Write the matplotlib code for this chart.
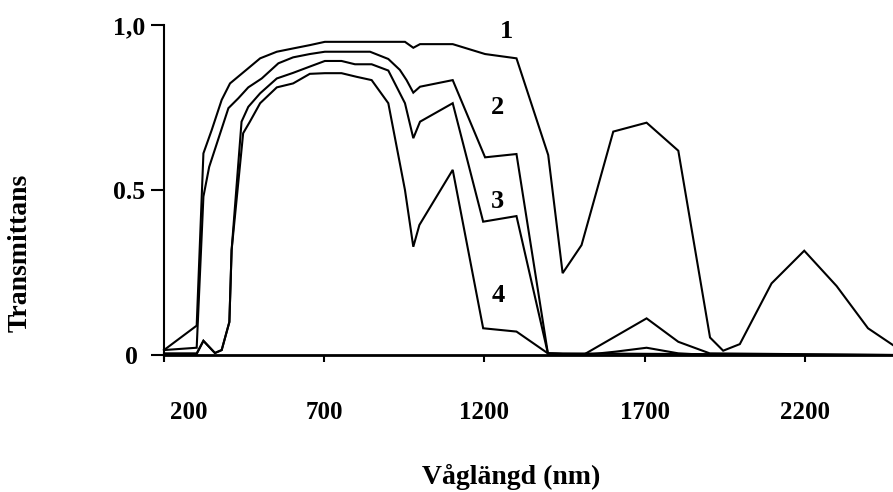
import matplotlib
matplotlib.use("Agg")
import matplotlib.pyplot as plt
from matplotlib.transforms import ScaledTranslation

# ---- data ----
wl1 = [200, 302, 323, 349, 380, 406, 437, 463, 500, 552, 603, 655, 702, 780, 883, 952, 978, 999,
       1101, 1202, 1300, 1399, 1444, 1503, 1602, 1706, 1805, 1904, 1945, 1997, 2096, 2198, 2299, 2397, 2475]
t1 = [0.015, 0.089, 0.611, 0.682, 0.773, 0.823, 0.848, 0.869, 0.899, 0.919, 0.929, 0.939, 0.949, 0.949,
      0.949, 0.949, 0.931, 0.942, 0.942, 0.912, 0.899, 0.606, 0.248, 0.333, 0.677, 0.704, 0.619, 0.053,
      0.013, 0.033, 0.217, 0.316, 0.209, 0.081, 0.030]

wl2 = [200, 302, 323, 341, 401, 432, 463, 505, 557, 603, 655, 702, 843, 900, 936, 957, 978, 999,
       1101, 1202, 1300, 1398, 1508, 1706, 1805, 1903, 2475]
t2 = [0.015, 0.022, 0.48, 0.57, 0.748, 0.778, 0.811, 0.838, 0.884, 0.902, 0.912, 0.919, 0.919, 0.897,
      0.864, 0.833, 0.795, 0.813, 0.833, 0.599, 0.609, 0.005, 0.0, 0.111, 0.04, 0.005, 0.0]

wl3 = [200, 302, 323, 359, 380, 404, 411, 442, 463, 500, 552, 603, 655, 702, 754, 796, 848, 900, 952,
       978, 999, 1101, 1196, 1300, 1398, 1508, 1608, 1706, 1805, 1903, 2475]
t3 = [0.005, 0.005, 0.043, 0.006, 0.015, 0.10, 0.318, 0.707, 0.752, 0.793, 0.838, 0.855, 0.874, 0.891,
      0.891, 0.881, 0.881, 0.862, 0.763, 0.657, 0.707, 0.763, 0.404, 0.421, 0.005, 0.0, 0.01, 0.022,
      0.005, 0.0, 0.0]

wl4 = [200, 302, 323, 359, 380, 404, 411, 447, 468, 500, 552, 603, 655, 702, 754, 801, 848, 900, 952,
       978, 997, 1101, 1196, 1300, 1398, 2475]
t4 = [0.0, 0.003, 0.043, 0.006, 0.015, 0.10, 0.318, 0.672, 0.707, 0.763, 0.811, 0.823, 0.852, 0.854,
      0.854, 0.843, 0.833, 0.763, 0.50, 0.328, 0.394, 0.561, 0.081, 0.071, 0.005, 0.0]

curve_labels = ["1", "2", "3", "4"]
label_wl = [1270, 1242, 1240, 1242]
label_t = [0.98, 0.751, 0.465, 0.181]

xticks = [200, 700, 1200, 1700, 2200]
xticklabels = ["200", "700", "1200", "1700", "2200"]
yticks = [0, 0.5, 1.0]
yticklabels = ["0", "0.5", "1,0"]

# ---- figure ----
plt.rcParams['font.family'] = ['Liberation Serif', 'DejaVu Serif']
plt.rcParams['font.weight'] = 'bold'

W, H = 893, 492
fig = plt.figure(figsize=(W / 100, H / 100), dpi=100)
ax = fig.add_axes([164 / W, (H - 358.3) / H, (W - 164) / W, (358.3 - 25) / H])

for wl, t in [(wl1, t1), (wl2, t2), (wl3, t3), (wl4, t4)]:
    ax.plot(wl, t, color='black', lw=1.5, solid_joinstyle='miter', clip_on=False)

for s, x, y in zip(curve_labels, label_wl, label_t):
    ax.text(x, y, s, ha='center', va='center', fontsize=19, fontweight='bold')

ax.set_xlim(200, 2475)
ax.set_ylim(-0.01, 1.0)

ax.spines['top'].set_visible(False)
ax.spines['right'].set_visible(False)
ax.spines['bottom'].set_position(('data', 0))
ax.spines['bottom'].set_linewidth(2.0)
ax.spines['left'].set_linewidth(1.5)

ax.set_xticks(xticks)
ax.set_xticklabels(xticklabels, fontsize=18, fontweight='bold')
ax.set_yticks(yticks)
ax.set_yticklabels(yticklabels, fontsize=18.5, fontweight='bold')
ax.tick_params(axis='x', direction='out', length=5, width=1.5, pad=28)
ax.tick_params(axis='y', direction='out', length=9.5, width=1.5, pad=4)

# first x tick label is shifted right in the reference
xl = ax.get_xticklabels()
xl[0].set_transform(xl[0].get_transform() + ScaledTranslation(25 / 100, 0, fig.dpi_scale_trans))
yl = ax.get_yticklabels()
yl[0].set_transform(yl[0].get_transform() + ScaledTranslation(-7 / 100, 0, fig.dpi_scale_trans))

fig.text(20 / W, 1 - 253 / H, "Transmittans", rotation=90, ha='center', va='center',
         fontsize=20, fontweight='bold')
fig.text(511 / W, 1 - 484 / H, "Våglängd (nm)", ha='center', va='baseline',
         fontsize=20, fontweight='bold')

fig.savefig("out.png", dpi=100)
